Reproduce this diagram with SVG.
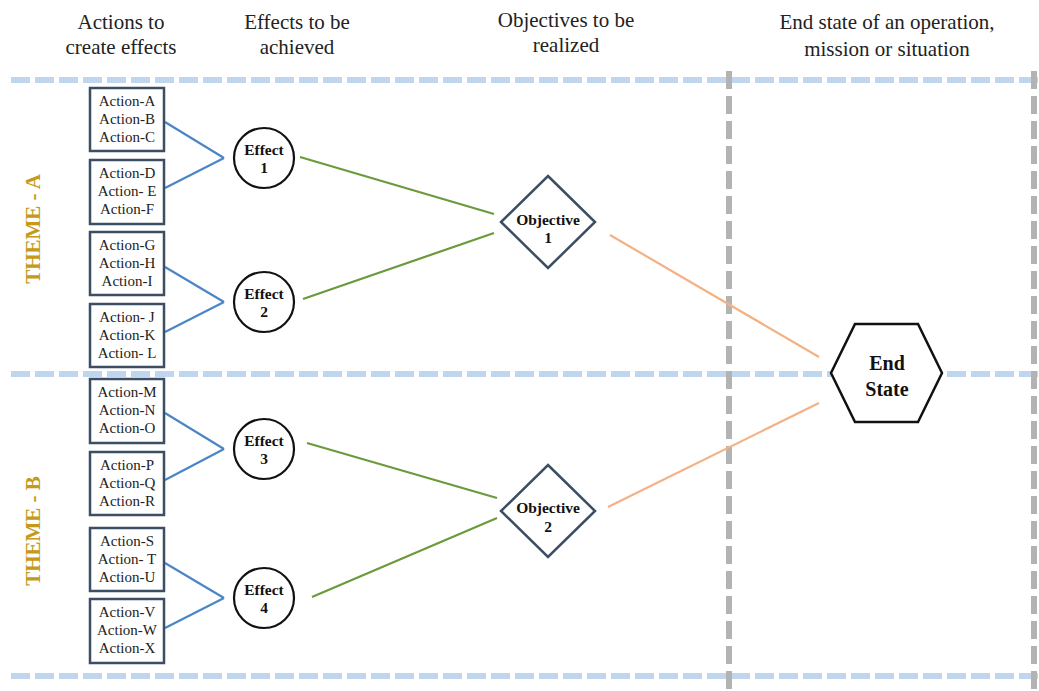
<svg xmlns="http://www.w3.org/2000/svg" width="1039" height="691" viewBox="0 0 1039 691" font-family="Liberation Serif, serif">
<style>
.hdr{font-size:21px;fill:#222;text-anchor:middle}
.act{font-size:15px;fill:#222;text-anchor:middle}
.box{fill:#fff;stroke:#3b4e63;stroke-width:2.5}
.eff{fill:#fff;stroke:#111;stroke-width:2.2}
.bold{font-weight:bold;font-size:15.5px;fill:#111;text-anchor:middle}
.big{font-weight:bold;font-size:20px;fill:#111;text-anchor:middle}
.obj{fill:#fff;stroke:#3b4e63;stroke-width:2.5}
.theme{font-weight:bold;font-size:21px;fill:#c49a1c;text-anchor:middle}
.hd{stroke:#c0d6ee;stroke-width:6;stroke-dasharray:19 5;fill:none}
.vd{stroke:#b3b3b3;stroke-width:6;stroke-dasharray:18 7;fill:none}
.blue{stroke:#4a86c5;stroke-width:2.2;fill:none}
.green{stroke:#6a9a3c;stroke-width:2.2;fill:none}
.orange{stroke:#f4b183;stroke-width:2.2;fill:none}
</style>
<rect width="1039" height="691" fill="#fff"/>
<g id="headers" font-family="Liberation Serif, serif">
<text class="hdr" x="121" y="29">Actions to</text>
<text class="hdr" x="121" y="54">create effects</text>
<text class="hdr" x="297" y="29">Effects to be</text>
<text class="hdr" x="297" y="54">achieved</text>
<text class="hdr" x="566" y="27">Objectives to be</text>
<text class="hdr" x="566" y="52">realized</text>
<text class="hdr" x="887" y="29">End state of an operation,</text>
<text class="hdr" x="887" y="56">mission or situation</text>
</g>
<g id="gridlines">
<line class="hd" x1="11" y1="80" x2="1039" y2="80"/>
<line class="hd" x1="11" y1="374" x2="1039" y2="374"/>
<line class="hd" x1="11" y1="676" x2="1039" y2="676"/>
<line class="vd" x1="729" y1="71" x2="729" y2="691"/>
<line class="vd" x1="1034" y1="71" x2="1034" y2="691"/>
</g>
<g id="themes" font-family="Liberation Serif, serif">
<text class="theme" transform="translate(40,229) rotate(-90)">THEME - A</text>
<text class="theme" transform="translate(40,531) rotate(-90)">THEME - B</text>
</g>
<g id="connectors">
<line class="blue" x1="165" y1="122" x2="224" y2="158"/>
<line class="blue" x1="165" y1="188" x2="224" y2="158"/>
<line class="blue" x1="165" y1="267" x2="224" y2="302"/>
<line class="blue" x1="165" y1="332" x2="224" y2="302"/>
<line class="blue" x1="165" y1="413" x2="224" y2="449"/>
<line class="blue" x1="165" y1="480" x2="224" y2="449"/>
<line class="blue" x1="165" y1="563" x2="224" y2="598"/>
<line class="blue" x1="165" y1="628" x2="224" y2="598"/>
<line class="green" x1="300" y1="157" x2="494" y2="214"/>
<line class="green" x1="303" y1="299" x2="494" y2="233"/>
<line class="green" x1="307" y1="443" x2="497" y2="498"/>
<line class="green" x1="312" y1="597" x2="497" y2="518"/>
<line class="orange" x1="610" y1="235" x2="819" y2="357"/>
<line class="orange" x1="608" y1="507" x2="819" y2="403"/>
</g>
<g font-family="Liberation Serif, serif">
<g id="actions-abc"><rect class="box" x="90" y="88" width="74" height="63"/>
<text class="act" x="127" y="106">Action-A</text><text class="act" x="127" y="124">Action-B</text><text class="act" x="127" y="142">Action-C</text></g>
<g id="actions-def"><rect class="box" x="90" y="160" width="74" height="64"/>
<text class="act" x="127" y="178">Action-D</text><text class="act" x="127" y="196">Action- E</text><text class="act" x="127" y="214">Action-F</text></g>
<g id="actions-ghi"><rect class="box" x="90" y="232" width="74" height="63"/>
<text class="act" x="127" y="250">Action-G</text><text class="act" x="127" y="268">Action-H</text><text class="act" x="127" y="286">Action-I</text></g>
<g id="actions-jkl"><rect class="box" x="90" y="304" width="74" height="63"/>
<text class="act" x="127" y="322">Action- J</text><text class="act" x="127" y="340">Action-K</text><text class="act" x="127" y="358">Action- L</text></g>
<g id="actions-mno"><rect class="box" x="90" y="379" width="74" height="64"/>
<text class="act" x="127" y="397">Action-M</text><text class="act" x="127" y="415">Action-N</text><text class="act" x="127" y="433">Action-O</text></g>
<g id="actions-pqr"><rect class="box" x="90" y="452" width="74" height="63"/>
<text class="act" x="127" y="470">Action-P</text><text class="act" x="127" y="488">Action-Q</text><text class="act" x="127" y="506">Action-R</text></g>
<g id="actions-stu"><rect class="box" x="90" y="528" width="74" height="63"/>
<text class="act" x="127" y="546">Action-S</text><text class="act" x="127" y="564">Action- T</text><text class="act" x="127" y="582">Action-U</text></g>
<g id="actions-vwx"><rect class="box" x="90" y="599" width="74" height="64"/>
<text class="act" x="127" y="617">Action-V</text><text class="act" x="127" y="635">Action-W</text><text class="act" x="127" y="653">Action-X</text></g>
<g id="effect1"><circle class="eff" cx="264" cy="158" r="30"/><text class="bold" x="264" y="155">Effect</text><text class="bold" x="264" y="173">1</text></g>
<g id="effect2"><circle class="eff" cx="264" cy="302" r="30"/><text class="bold" x="264" y="299">Effect</text><text class="bold" x="264" y="317">2</text></g>
<g id="effect3"><circle class="eff" cx="264" cy="449" r="30"/><text class="bold" x="264" y="446">Effect</text><text class="bold" x="264" y="464">3</text></g>
<g id="effect4"><circle class="eff" cx="264" cy="598" r="30"/><text class="bold" x="264" y="595">Effect</text><text class="bold" x="264" y="613">4</text></g>
<g id="objective1"><polygon class="obj" points="548,176 595,222 548,268 501,222"/><text class="bold" x="548" y="225">Objective</text><text class="bold" x="548" y="243">1</text></g>
<g id="objective2"><polygon class="obj" points="548,465 595,511 548,557 501,511"/><text class="bold" x="548" y="513">Objective</text><text class="bold" x="548" y="532">2</text></g>
<g id="endstate"><polygon points="855,324 918,324 942,373 918,422 855,422 831,373" fill="#fff" stroke="#111" stroke-width="2.5"/><text class="big" x="887" y="370">End</text><text class="big" x="887" y="396">State</text></g>
</g>
</svg>
